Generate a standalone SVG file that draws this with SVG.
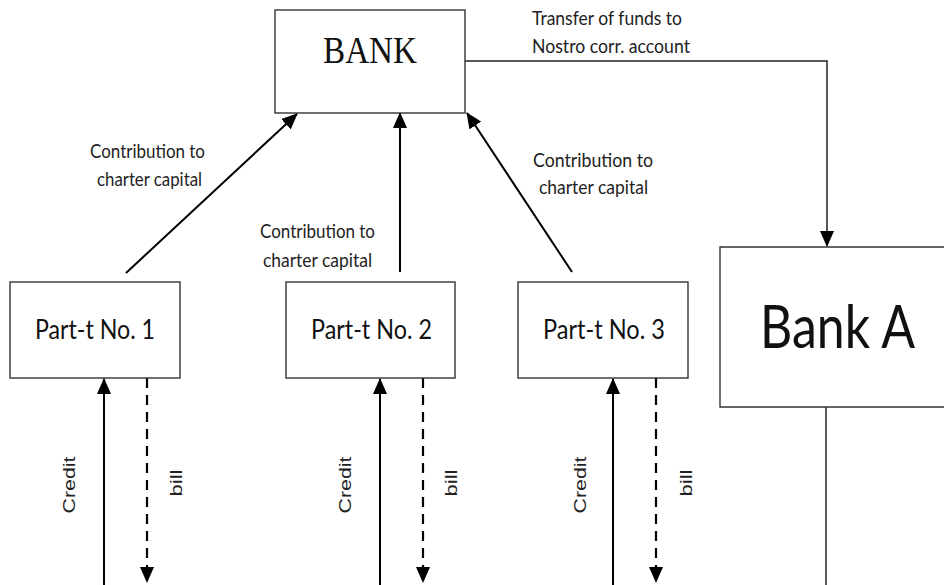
<svg xmlns="http://www.w3.org/2000/svg" width="944" height="585" viewBox="0 0 944 585">
<style>
.box{fill:#fff;stroke:#333;stroke-width:1.4}
.lbl{font-family:Lato,"Open Sans",sans-serif;font-size:20px;fill:#222}
.node{font-family:Lato,"Open Sans",sans-serif;fill:#111}
.vt{font-family:"Liberation Sans",Arial,sans-serif;font-size:17px;fill:#222}
.arr{stroke:#000;stroke-width:2;fill:none}
.thin{stroke:#222;stroke-width:1.5;fill:none}
.dash{stroke:#000;stroke-width:2.2;fill:none;stroke-dasharray:10 7}
</style>
<defs>
<marker id="ah" markerUnits="userSpaceOnUse" markerWidth="16" markerHeight="14" viewBox="0 0 16 14" refX="15" refY="7" orient="auto">
<path d="M0,0 L16,7 L0,14 Z" fill="#000"/>
</marker>
</defs>
<g id="connectors">
<path class="thin" d="M465,61 H827 V246" marker-end="url(#ah)"/>
<line class="arr" x1="126" y1="273" x2="297" y2="114" marker-end="url(#ah)"/>
<line class="arr" x1="400" y1="272" x2="400" y2="113" marker-end="url(#ah)"/>
<line class="arr" x1="572" y1="272" x2="467" y2="113" marker-end="url(#ah)"/>
<line class="arr" x1="104" y1="585" x2="104" y2="379" marker-end="url(#ah)"/>
<line class="dash" x1="147" y1="378" x2="147" y2="582" marker-end="url(#ah)"/>
<line class="arr" x1="380" y1="585" x2="380" y2="379" marker-end="url(#ah)"/>
<line class="dash" x1="423" y1="378" x2="423" y2="582" marker-end="url(#ah)"/>
<line class="arr" x1="613" y1="585" x2="613" y2="379" marker-end="url(#ah)"/>
<line class="dash" x1="656" y1="378" x2="656" y2="582" marker-end="url(#ah)"/>
<line class="thin" x1="826" y1="407" x2="826" y2="585"/>
<text class="lbl" x="532" y="25" textLength="150" lengthAdjust="spacingAndGlyphs">Transfer of funds to</text>
<text class="lbl" x="532" y="53" textLength="158" lengthAdjust="spacingAndGlyphs">Nostro corr. account</text>
<text class="lbl" x="90" y="158" textLength="115" lengthAdjust="spacingAndGlyphs">Contribution to</text>
<text class="lbl" x="97" y="186" textLength="105" lengthAdjust="spacingAndGlyphs">charter capital</text>
<text class="lbl" x="260" y="238" textLength="115" lengthAdjust="spacingAndGlyphs">Contribution to</text>
<text class="lbl" x="263" y="267" textLength="109" lengthAdjust="spacingAndGlyphs">charter capital</text>
<text class="lbl" x="533" y="167" textLength="120" lengthAdjust="spacingAndGlyphs">Contribution to</text>
<text class="lbl" x="539" y="194" textLength="109" lengthAdjust="spacingAndGlyphs">charter capital</text>
<text class="vt" transform="translate(75,485) rotate(-90)" text-anchor="middle" textLength="57" lengthAdjust="spacingAndGlyphs">Credit</text>
<text class="vt" transform="translate(182,483) rotate(-90)" text-anchor="middle" textLength="27" lengthAdjust="spacingAndGlyphs">bill</text>
<text class="vt" transform="translate(351,485) rotate(-90)" text-anchor="middle" textLength="57" lengthAdjust="spacingAndGlyphs">Credit</text>
<text class="vt" transform="translate(457,483) rotate(-90)" text-anchor="middle" textLength="27" lengthAdjust="spacingAndGlyphs">bill</text>
<text class="vt" transform="translate(586,485) rotate(-90)" text-anchor="middle" textLength="57" lengthAdjust="spacingAndGlyphs">Credit</text>
<text class="vt" transform="translate(692,483) rotate(-90)" text-anchor="middle" textLength="27" lengthAdjust="spacingAndGlyphs">bill</text>
</g>
<g id="bank">
<rect class="box" x="275" y="10" width="190" height="103"/>
<text x="323" y="63" font-family="'Liberation Serif','Times New Roman',serif" font-size="37" fill="#111" textLength="94" lengthAdjust="spacingAndGlyphs">BANK</text>
</g>
<g id="bankA">
<rect x="720" y="247" width="224" height="160" fill="#fff"/>
<path d="M944,247 H720 V407 H944" fill="none" stroke="#333" stroke-width="1.4"/>
<text class="node" x="760" y="348" font-size="60" textLength="155" lengthAdjust="spacingAndGlyphs">Bank A</text>
</g>
<g id="part1">
<rect class="box" x="10" y="282" width="170" height="96"/>
<text class="node" x="35" y="339" font-size="26" textLength="120" lengthAdjust="spacingAndGlyphs">Part-t No. 1</text>
</g>
<g id="part2">
<rect class="box" x="286" y="282" width="169" height="96"/>
<text class="node" x="311" y="339" font-size="26" textLength="121" lengthAdjust="spacingAndGlyphs">Part-t No. 2</text>
</g>
<g id="part3">
<rect class="box" x="518" y="282" width="170" height="96"/>
<text class="node" x="543" y="339" font-size="26" textLength="122" lengthAdjust="spacingAndGlyphs">Part-t No. 3</text>
</g>
</svg>
